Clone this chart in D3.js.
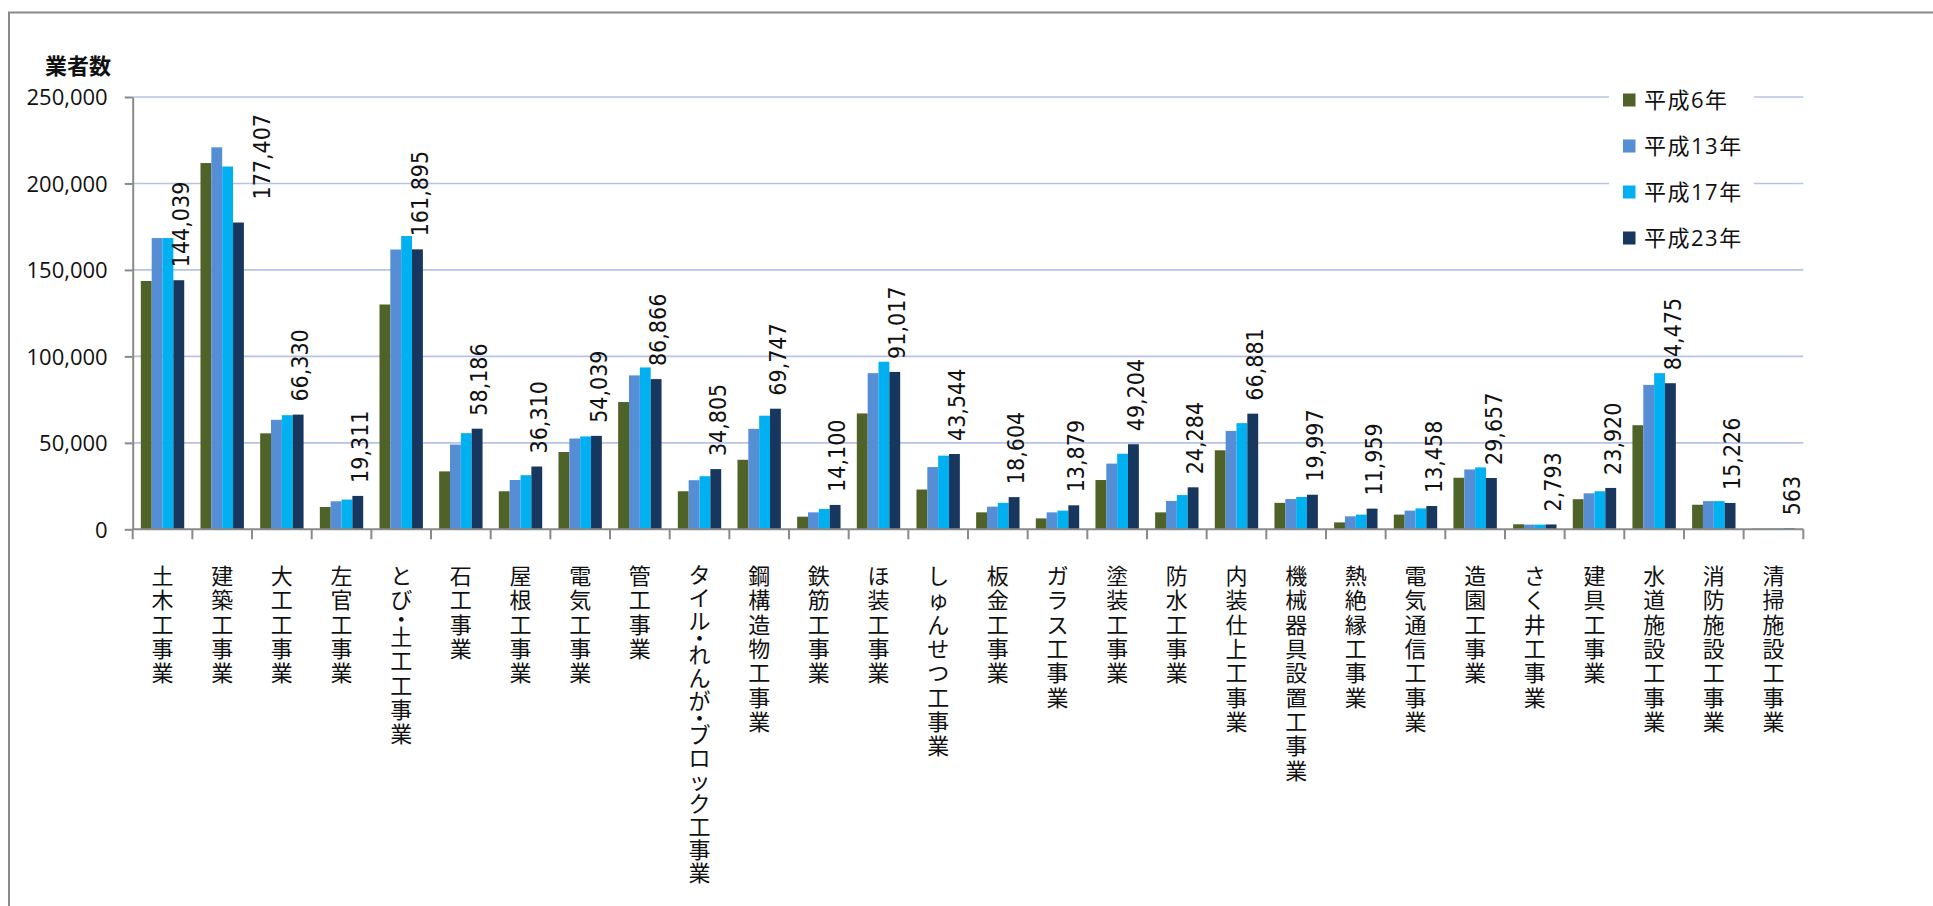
<!DOCTYPE html>
<html lang="ja">
<head>
<meta charset="utf-8">
<script src="https://cdn.jsdelivr.net/npm/d3@7"></script>
<style>
  html, body { margin: 0; padding: 0; background: #fff; }
  svg { display: block; }
</style>
</head>
<body>
<script>
// 工事業種別の業者数（平成6年・13年・17年・23年）
const categories = [
  "土木工事業", "建築工事業", "大工工事業", "左官工事業", "とび・土工工事業",
  "石工事業", "屋根工事業", "電気工事業", "管工事業", "タイル・れんが・ブロック工事業",
  "鋼構造物工事業", "鉄筋工事業", "ほ装工事業", "しゅんせつ工事業", "板金工事業",
  "ガラス工事業", "塗装工事業", "防水工事業", "内装仕上工事業", "機械器具設置工事業",
  "熱絶縁工事業", "電気通信工事業", "造園工事業", "さく井工事業", "建具工事業",
  "水道施設工事業", "消防施設工事業", "清掃施設工事業"
];
const seriesNames = ["平成6年", "平成13年", "平成17年", "平成23年"];

const h6 = [143600, 211800, 55500, 12900, 130000, 33500, 22000, 44700, 73600, 22000,
            40200, 7300, 67000, 23000, 9800, 6300, 28500, 9800, 45700, 15300,
            4000, 8500, 29800, 2900, 17400, 60200, 14200, 400];
const h13 = [168400, 220900, 63300, 16200, 161800, 49000, 28500, 52500, 89000, 28400,
             58100, 9800, 90300, 36000, 13100, 9800, 38000, 16400, 56900, 17500,
             7500, 10800, 34600, 2700, 20800, 83500, 16300, 500];
const h17 = [168400, 209800, 66000, 17200, 169600, 55600, 31300, 53700, 93600, 30700,
             65700, 11800, 96900, 42600, 15300, 10800, 43700, 19800, 61400, 18700,
             8500, 12100, 35800, 2700, 22000, 90300, 16300, 520];
const h23 = [144039, 177407, 66330, 19311, 161895, 58186, 36310, 54039, 86866, 34805,
             69747, 14100, 91017, 43544, 18604, 13879, 49204, 24284, 66881, 19997,
             11959, 13458, 29657, 2793, 23920, 84475, 15226, 563];

const yTicks = [0, 50000, 100000, 150000, 200000, 250000];
const yTitle = "業者数";

const seriesValues = [h6, h13, h17, h23];
const colors = ["#4f6228", "#558ed5", "#00b0f0", "#17375e"];

const W = 1933, H = 906;
const plot = { left: 132.7, right: 1803.3, top: 97, bottom: 529.3 };
const uiFont = "'Open Sans', 'Noto Sans CJK JP', sans-serif";
const cjkFont = "'Noto Sans CJK JP', sans-serif";
const labelFont = "'DejaVu Sans Condensed', 'DejaVu Sans', sans-serif";
const axisColor = "#8a8a8a";
const gridColor = "#b7c3e6";

const svg = d3.select("body").append("svg")
  .attr("width", W).attr("height", H)
  .attr("viewBox", `0 0 ${W} ${H}`);

// chart frame (runs off the right and bottom edges)
svg.append("path")
  .attr("d", `M9,${H + 5} L9,12.5 L${W + 5},12.5`)
  .attr("fill", "none").attr("stroke", axisColor).attr("stroke-width", 2);

const x = d3.scaleBand().domain(categories).range([plot.left, plot.right]).padding(0);
const y = d3.scaleLinear().domain([0, 250000]).range([plot.bottom, plot.top]);
const barW = x.bandwidth() / 5.5;   // gap width 150%
const x1 = d3.scaleBand().domain(seriesNames).range([barW * 0.75, barW * 4.75]).padding(0);

// horizontal gridlines
svg.append("g").selectAll("line")
  .data(yTicks.filter(d => d > 0))
  .join("line")
  .attr("x1", plot.left).attr("x2", plot.right)
  .attr("y1", d => y(d)).attr("y2", d => y(d))
  .attr("stroke", gridColor).attr("stroke-width", 1.6);

// bars
const series = seriesNames.map((name, i) => ({ name, color: colors[i], values: seriesValues[i] }));
svg.append("g").selectAll("g")
  .data(series)
  .join("g")
  .attr("fill", s => s.color)
  .selectAll("rect")
  .data(s => s.values.map((v, j) => ({ name: s.name, cat: categories[j], v })))
  .join("rect")
  .attr("x", d => x(d.cat) + x1(d.name))
  .attr("y", d => y(d.v))
  .attr("width", x1.bandwidth())
  .attr("height", d => y(0) - y(d.v));

// y axis
const yAxis = svg.append("g")
  .attr("transform", `translate(${plot.left},0)`)
  .call(d3.axisLeft(y).tickValues(yTicks).tickSize(8).tickSizeOuter(0)
    .tickPadding(17).tickFormat(d3.format(",")));
yAxis.select(".domain").attr("stroke", axisColor).attr("stroke-width", 2);
yAxis.selectAll(".tick line").attr("stroke", axisColor).attr("stroke-width", 2);
yAxis.selectAll(".tick text")
  .attr("font-family", uiFont).attr("font-size", 22).attr("fill", "#111")
  .attr("dy", "0.36em");

// x axis line and category boundary ticks
svg.append("line")
  .attr("x1", plot.left).attr("x2", plot.right)
  .attr("y1", y(0)).attr("y2", y(0))
  .attr("stroke", axisColor).attr("stroke-width", 2);
svg.append("g").selectAll("line")
  .data(categories.map(c => x(c)).concat([x.range()[1]]))
  .join("line")
  .attr("x1", d => d).attr("x2", d => d)
  .attr("y1", y(0)).attr("y2", y(0) + 10)
  .attr("stroke", axisColor).attr("stroke-width", 2);

// value labels above the 平成23年 bars
const lastName = seriesNames[seriesNames.length - 1];
const labelNudge = { "建築工事業": [21, -10] };
svg.append("g").selectAll("text")
  .data(categories.map((c, j) => ({ cat: c, v: h23[j] })))
  .join("text")
  .attr("transform", d => {
    const n = labelNudge[d.cat] || [0, 0];
    const cx = x(d.cat) + x1(lastName) + x1.bandwidth() / 2 + 2 + n[0];
    const cy = y(d.v) - 13 + n[1];
    return `translate(${cx},${cy}) rotate(-90)`;
  })
  .attr("dy", "0.36em")
  .attr("font-family", labelFont).attr("font-size", 23).attr("fill", "#111")
  .text(d => d3.format(",")(d.v));

// vertical category labels, one upright character per line
const labelTop = 562, charAdv = 24.3, maxLen = 320;
const catLabels = svg.append("g").selectAll("text")
  .data(categories)
  .join("text")
  .attr("font-family", cjkFont).attr("font-size", 22).attr("fill", "#111")
  .attr("text-anchor", "middle");
catLabels.each(function (c) {
  const chars = Array.from(c);
  const units = chars.map(ch => (ch === "・" ? 0.5 : 1));
  const total = d3.sum(units) * charAdv;
  const adv = total > maxLen ? maxLen / d3.sum(units) : charAdv;
  const cx = x(c) + x.bandwidth() / 2;
  let pos = labelTop;
  const t = d3.select(this);
  chars.forEach((ch, k) => {
    const a = units[k] * adv;
    t.append("tspan")
      .attr("x", cx)
      .attr("y", pos + a / 2)
      .attr("dominant-baseline", "central")
      .text(ch);
    pos += a;
  });
});

// axis title
svg.append("text")
  .attr("x", 45).attr("y", 64)
  .attr("dominant-baseline", "central")
  .attr("font-family", cjkFont).attr("font-size", 22).attr("font-weight", 700)
  .attr("fill", "#111")
  .text(yTitle);

// legend
const legend = svg.append("g");
legend.append("rect")
  .attr("x", 1609).attr("y", 80).attr("width", 145).attr("height", 178)
  .attr("fill", "#fff");
const legendRows = legend.selectAll("g")
  .data(series)
  .join("g")
  .attr("transform", (d, i) => `translate(1623,${100 + i * 46})`);
legendRows.append("rect")
  .attr("x", 0).attr("y", -6.5).attr("width", 12.5).attr("height", 13)
  .attr("fill", d => d.color);
legendRows.append("text")
  .attr("x", 21).attr("y", 0).attr("dy", "0.36em")
  .attr("font-family", uiFont).attr("font-size", 22).attr("letter-spacing", 1.5)
  .attr("fill", "#111")
  .text(d => d.name);
</script>
</body>
</html>
